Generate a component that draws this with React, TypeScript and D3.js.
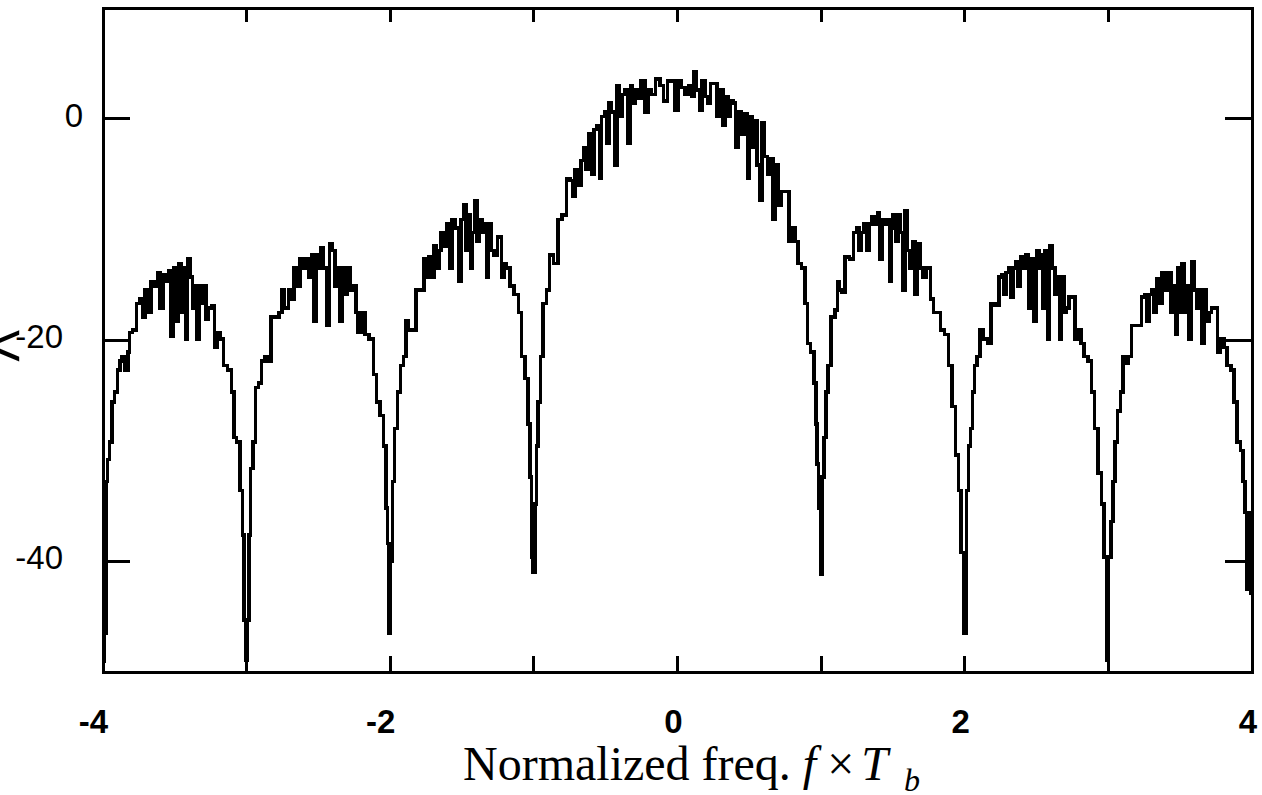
import React from "react";
import * as d3 from "d3";

// Tick values
const xTicks = [-4, -3, -2, -1, 0, 1, 2, 3, 4];
const xTickLabels = [-4, -2, 0, 2, 4];
const yTicks = [0, -20, -40];

// Spectrum samples [normalized freq, PSD dB]
const lobeA: [number, number][] = [
  [-4.0, -49], [-3.981, -46.5], [-3.974, -32.8], [-3.963, -30.8], [-3.947, -29.2], [-3.928, -25.6],
  [-3.909, -24.7], [-3.886, -22.7], [-3.877, -21.9], [-3.858, -21.5], [-3.835, -22.7], [-3.817, -21.1],
  [-3.812, -19.3], [-3.777, -19.1], [-3.754, -16.7], [-3.731, -16.3], [-3.719, -17.9], [-3.696, -15.5],
  [-3.677, -17.5], [-3.654, -14.7], [-3.626, -15.1], [-3.615, -13.9], [-3.592, -17.1], [-3.575, -14.1],
  [-3.552, -14.7], [-3.534, -13.7], [-3.522, -19.7], [-3.499, -13.5], [-3.482, -18.3], [-3.469, -13.1],
  [-3.445, -17.5], [-3.429, -13.5], [-3.417, -19.9], [-3.406, -12.7], [-3.383, -14.3], [-3.371, -17.1],
  [-3.353, -15.1], [-3.336, -19.9], [-3.32, -15.1], [-3.301, -16.7], [-3.29, -15.1], [-3.274, -18.1],
  [-3.255, -17.1], [-3.232, -16.9], [-3.213, -20.7], [-3.197, -19.3], [-3.174, -19.9], [-3.151, -22.3],
  [-3.116, -22.7], [-3.093, -24.7], [-3.081, -28.8], [-3.058, -29.2], [-3.035, -33.6], [-3.023, -37.6],
  [-3.011, -45.3], [-3.0, -48.9],
];
const lobeB: [number, number][] = [
  [-2.988, -45.3], [-2.981, -37.6], [-2.965, -31.6], [-2.949, -29.2], [-2.93, -24.3], [-2.907, -23.9],
  [-2.884, -21.9], [-2.861, -21.5], [-2.837, -21.9], [-2.826, -17.9], [-2.791, -17.9], [-2.756, -17.5],
  [-2.749, -15.5], [-2.721, -17.1], [-2.698, -15.5], [-2.675, -16.3], [-2.663, -13.5], [-2.64, -15.1],
  [-2.617, -12.7], [-2.594, -13.5], [-2.57, -12.7], [-2.559, -14.3], [-2.54, -12.3], [-2.524, -18.3],
  [-2.508, -12.3], [-2.489, -13.5], [-2.478, -11.7], [-2.454, -13.5], [-2.431, -18.7], [-2.415, -11.3],
  [-2.392, -11.9], [-2.378, -15.1], [-2.362, -13.5], [-2.345, -18.3], [-2.327, -13.5], [-2.308, -15.9],
  [-2.292, -13.5], [-2.269, -15.5], [-2.246, -15.1], [-2.234, -17.5], [-2.215, -19.3], [-2.188, -17.5],
  [-2.164, -19.5], [-2.129, -19.9], [-2.106, -23.1], [-2.083, -25.6], [-2.06, -26.8], [-2.037, -29.6],
  [-2.025, -35.2], [-2.013, -38.4], [-2.004, -46.5],
];
const lobeC: [number, number][] = [
  [-1.99, -40.0], [-1.979, -32.8], [-1.96, -28.0], [-1.937, -24.7], [-1.921, -22.3], [-1.897, -21.5],
  [-1.886, -18.3], [-1.863, -19.1], [-1.828, -19.1], [-1.816, -15.5], [-1.77, -15.5], [-1.759, -12.7],
  [-1.742, -14.3], [-1.724, -12.5], [-1.7, -14.3], [-1.689, -11.5], [-1.666, -13.5], [-1.654, -11.9],
  [-1.636, -10.3], [-1.619, -11.5], [-1.596, -9.5], [-1.58, -13.5], [-1.561, -9.1], [-1.538, -9.9],
  [-1.515, -14.7], [-1.503, -9.1], [-1.48, -7.8], [-1.468, -11.9], [-1.45, -8.7], [-1.433, -13.5],
  [-1.422, -10.3], [-1.403, -7.4], [-1.387, -11.1], [-1.37, -9.1], [-1.352, -10.3], [-1.333, -9.5],
  [-1.324, -14.3], [-1.305, -9.5], [-1.282, -11.9], [-1.271, -12.3], [-1.236, -10.7], [-1.217, -14.3],
  [-1.201, -13.1], [-1.178, -13.5], [-1.155, -15.1], [-1.12, -15.9], [-1.097, -17.5], [-1.074, -21.5],
  [-1.051, -23.5], [-1.032, -27.6], [-1.023, -32.4], [-1.009, -39.6], [-1.0, -41.0],
];
const lobeD: [number, number][] = [
  [-0.986, -34.8], [-0.977, -29.6], [-0.963, -25.6], [-0.947, -21.5], [-0.924, -16.7], [-0.9, -15.5],
  [-0.884, -12.3], [-0.842, -13.1], [-0.824, -9.1], [-0.784, -8.7], [-0.761, -5.4], [-0.738, -5.6],
  [-0.726, -7.0], [-0.703, -4.6], [-0.684, -6.0], [-0.661, -3.8], [-0.645, -2.6], [-0.628, -4.6],
  [-0.605, -1.4], [-0.587, -5.0], [-0.575, -1.0], [-0.552, -0.6], [-0.536, -5.4], [-0.522, 0.2],
  [-0.498, 0.6], [-0.482, -2.2], [-0.471, 1.4], [-0.448, 0.6], [-0.429, -4.2], [-0.413, 3.0],
  [-0.397, 0.2], [-0.378, 2.2], [-0.355, 2.6], [-0.337, -2.2], [-0.32, 3.0], [-0.304, 1.4],
  [-0.285, 2.6], [-0.267, 1.8], [-0.239, 3.4], [-0.216, 0.6], [-0.197, 2.6], [-0.169, 2.2],
  [-0.135, 3.6], [-0.112, 3.0], [-0.081, 1.6], [-0.058, 3.4], [-0.03, 3.4], [-0.007, 0.8],
];
const lobeE: [number, number][] = [
  [0.017, 3.4], [0.04, 2.8], [0.064, 2.2], [0.087, 3.0], [0.105, 2.0], [0.122, 4.2], [0.145, 2.6],
  [0.161, 0.8], [0.18, 3.4], [0.203, 2.0], [0.221, 1.4], [0.238, 3.2], [0.268, 3.2], [0.284, 0.2],
  [0.307, 2.6], [0.324, -0.6], [0.342, 2.0], [0.361, 0.2], [0.377, 1.6], [0.393, 1.4], [0.412, -2.6],
  [0.435, 0.6], [0.458, -1.4], [0.481, 0.4], [0.493, -5.4], [0.509, 0.2], [0.528, -2.6], [0.546, -0.2],
  [0.563, -4.2], [0.579, -7.4], [0.598, -0.4], [0.616, -3.4], [0.64, -5.0], [0.656, -3.6], [0.672, -9.1],
  [0.691, -4.2], [0.709, -7.8], [0.737, -6.6], [0.772, -6.6], [0.779, -11.1], [0.807, -9.9], [0.83, -11.1],
  [0.849, -13.1], [0.877, -13.5], [0.9, -16.7], [0.911, -20.3], [0.941, -21.1], [0.958, -23.9],
  [0.969, -27.6], [0.976, -31.2], [0.988, -35.2], [1.004, -41.2],
];
const lobeF: [number, number][] = [
  [1.011, -32.4], [1.027, -28.8], [1.039, -24.7], [1.057, -22.3], [1.081, -17.9], [1.109, -17.3],
  [1.121, -14.7], [1.137, -15.5], [1.155, -15.7], [1.179, -12.5], [1.213, -12.7], [1.237, -10.3],
  [1.253, -9.9], [1.272, -11.9], [1.29, -10.3], [1.306, -9.5], [1.33, -11.9], [1.346, -9.5],
  [1.364, -8.9], [1.383, -9.5], [1.399, -8.5], [1.416, -12.7], [1.434, -9.1], [1.453, -9.5],
  [1.469, -9.1], [1.481, -14.7], [1.492, -9.9], [1.508, -8.7], [1.527, -11.1], [1.546, -8.7],
  [1.562, -10.3], [1.574, -15.5], [1.592, -8.3], [1.609, -11.9], [1.625, -13.5], [1.644, -11.1],
  [1.662, -15.9], [1.679, -11.3], [1.695, -13.5], [1.714, -14.3], [1.749, -13.5], [1.772, -16.3],
  [1.795, -17.5], [1.818, -17.5], [1.841, -19.1], [1.876, -19.5], [1.899, -22.3], [1.923, -26.0],
  [1.946, -30.4], [1.969, -33.6], [1.981, -39.2], [2.004, -46.5],
];
const lobeG: [number, number][] = [
  [2.018, -33.6], [2.032, -29.6], [2.048, -28.0], [2.06, -24.7], [2.078, -22.3], [2.094, -21.5],
  [2.117, -19.1], [2.141, -19.9], [2.176, -20.3], [2.187, -16.7], [2.234, -16.9], [2.245, -14.3],
  [2.269, -14.1], [2.28, -15.9], [2.297, -13.9], [2.315, -13.5], [2.327, -16.1], [2.343, -13.5],
  [2.362, -12.9], [2.38, -15.1], [2.397, -12.5], [2.413, -13.5], [2.431, -12.3], [2.455, -17.1],
  [2.473, -12.7], [2.49, -18.3], [2.506, -11.9], [2.525, -13.5], [2.536, -12.3], [2.552, -17.1],
  [2.566, -11.9], [2.583, -19.9], [2.599, -11.5], [2.618, -13.5], [2.636, -15.9], [2.653, -14.3],
  [2.664, -19.9], [2.683, -14.3], [2.699, -17.5], [2.715, -17.1], [2.739, -16.1], [2.762, -16.1],
  [2.776, -19.9], [2.799, -19.1], [2.823, -20.3], [2.839, -21.5], [2.874, -21.9], [2.893, -24.7],
  [2.916, -28.0], [2.939, -32.0], [2.963, -34.8], [2.979, -39.6], [2.995, -48.9],
];
const lobeH: [number, number][] = [
  [3.009, -39.6], [3.025, -36.4], [3.037, -32.8], [3.055, -29.2], [3.072, -26.4], [3.095, -24.7],
  [3.111, -21.5], [3.13, -22.1], [3.148, -21.5], [3.176, -18.7], [3.223, -18.7], [3.241, -16.1],
  [3.264, -15.9], [3.274, -18.3], [3.292, -15.9], [3.311, -15.5], [3.327, -17.5], [3.343, -14.5],
  [3.362, -16.7], [3.385, -13.9], [3.408, -15.5], [3.427, -13.9], [3.443, -17.5], [3.459, -15.1],
  [3.473, -19.5], [3.49, -13.5], [3.506, -17.5], [3.52, -13.1], [3.536, -17.5], [3.552, -15.1],
  [3.571, -19.9], [3.589, -12.9], [3.606, -15.5], [3.622, -17.1], [3.641, -15.5], [3.659, -20.3],
  [3.675, -15.5], [3.692, -18.3], [3.71, -17.5], [3.729, -17.1], [3.752, -17.1], [3.768, -21.1],
  [3.792, -19.9], [3.815, -20.7], [3.838, -22.3], [3.868, -22.7], [3.884, -25.6], [3.907, -29.2],
  [3.93, -30.0], [3.942, -32.8], [3.961, -35.6], [3.97, -42.5], [3.984, -35.6], [3.993, -42.9],
];

const spectrum = [...lobeA, ...lobeB, ...lobeC, ...lobeD, ...lobeE, ...lobeF, ...lobeG, ...lobeH];

const W = 1262;
const H = 795;
const M = { left: 103, right: 1252, top: 8, bottom: 672 };

export default function App() {
  const x = d3.scaleLinear().domain([-4, 4]).range([M.left, M.right]);
  const y = d3.scaleLinear().domain([-50, 10]).range([M.bottom, M.top]);
  const line = d3
    .line<[number, number]>()
    .x((d) => x(d[0]))
    .y((d) => y(d[1]))
    .curve(d3.curveStep);

  const sans = "'Liberation Sans', Arial, sans-serif";
  const serif = "'Liberation Serif', 'Times New Roman', serif";

  return (
    <div style={{ position: "absolute", left: 0, top: 0 }}>
      <svg width={W} height={H} style={{ display: "block", background: "#fff" }}>
        <defs>
          <clipPath id="plotClip">
            <rect x={M.left} y={M.top} width={M.right - M.left} height={M.bottom - M.top} />
          </clipPath>
        </defs>
        <rect x={0} y={0} width={W} height={H} fill="#fff" />

        {/* data line */}
        <path
          d={line(spectrum) || ""}
          fill="none"
          stroke="#000"
          strokeWidth={3.5}
          strokeLinejoin="miter"
          strokeLinecap="square"
          shapeRendering="crispEdges"
          clipPath="url(#plotClip)"
        />

        {/* frame */}
        <rect
          x={M.left}
          y={M.top}
          width={M.right - M.left}
          height={M.bottom - M.top}
          fill="none"
          stroke="#000"
          strokeWidth={3}
          shapeRendering="crispEdges"
        />

        {/* x ticks, inward top and bottom */}
        {xTicks.map((t) => (
          <g key={"xt" + t} shapeRendering="crispEdges">
            <line x1={x(t)} x2={x(t)} y1={M.bottom} y2={M.bottom - 16} stroke="#000" strokeWidth={3} />
            <line x1={x(t)} x2={x(t)} y1={M.top} y2={M.top + 14} stroke="#000" strokeWidth={3} />
          </g>
        ))}

        {/* y ticks, inward left and right */}
        {yTicks.map((t) => (
          <g key={"yt" + t} shapeRendering="crispEdges">
            <line x1={M.left} x2={M.left + 27} y1={y(t)} y2={y(t)} stroke="#000" strokeWidth={3} />
            <line x1={M.right} x2={M.right - 27} y1={y(t)} y2={y(t)} stroke="#000" strokeWidth={3} />
          </g>
        ))}

        {/* x tick labels */}
        {xTickLabels.map((t) => (
          <text
            key={"xl" + t}
            x={x(t) + 5}
            y={733}
            textAnchor="end"
            fontFamily={sans}
            fontWeight="bold"
            fontSize={33}
            fill="#000"
          >
            {t}
          </text>
        ))}

        {/* y tick labels */}
        {yTicks.map((t) => (
          <text
            key={"yl" + t}
            x={M.left - (t === 0 ? 20 : 40)}
            y={y(t) + 8}
            textAnchor="end"
            fontFamily={sans}
            fontSize={33}
            fill="#000"
          >
            {t}
          </text>
        ))}

        {/* clipped y-axis title remnant */}
        <text x={-14} y={366} fontFamily={sans} fontSize={62} fill="#000">
          {"<"}
        </text>

        {/* x axis title */}
        <text x={463} y={780} fontFamily={serif} fontSize={48} fill="#000">
          {"Normalized freq. "}
          <tspan fontStyle="italic">f</tspan>
          <tspan dx={11}>{"×"}</tspan>
          <tspan fontStyle="italic" dx={7}>T</tspan>
          <tspan fontStyle="italic" fontSize={32} dx={16} dy={11}>b</tspan>
        </text>
      </svg>
    </div>
  );
}
